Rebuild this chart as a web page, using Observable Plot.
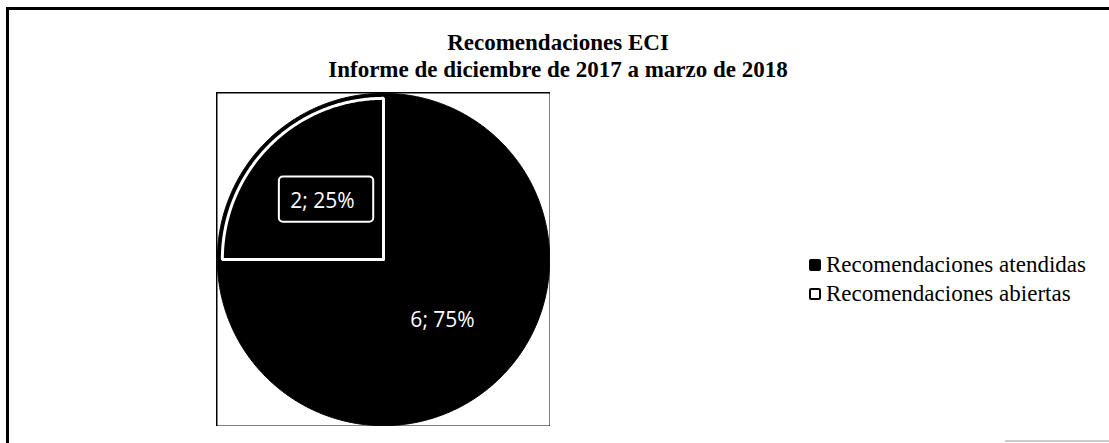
<!DOCTYPE html>
<html>
<head>
<meta charset="utf-8">
<script src="https://cdn.jsdelivr.net/npm/d3@7"></script>
<script src="https://cdn.jsdelivr.net/npm/@observablehq/plot@0.6"></script>
<style>
  html, body { margin: 0; padding: 0; background: #fff; }
  #wrap { position: relative; width: 1109px; height: 443px; overflow: hidden; background: #fff; }
  .title { position: absolute; left: 0; width: 1116px; text-align: center; font-family: "Liberation Serif", "DejaVu Serif", serif; font-weight: bold; color: #000; white-space: nowrap; font-size: 23px; line-height: 26px; }
  #legend { position: absolute; left: 809px; top: 250px; font-family: "Liberation Serif", serif; font-size: 23px; color: #000; }
  #legend .item { display: flex; align-items: center; height: 29px; }
  #legend .sw { width: 12px; height: 12px; box-sizing: border-box; border: 2px solid #000; margin-right: 5px; border-radius: 2px; }
</style>
</head>
<body>
<div id="wrap">
  <div style="position:absolute;left:6px;top:7px;width:1103px;height:3px;background:#000"></div>
  <div style="position:absolute;left:6px;top:7px;width:3px;height:436px;background:#000"></div>
  <div style="position:absolute;left:1005px;top:440px;width:104px;height:2px;background:#ccc"></div>
  <div class="title" id="t1" style="top:30px"></div>
  <div class="title" id="t2" style="top:57px"></div>
  <div id="chart" style="position:absolute;left:216px;top:92px;"></div>
  <div id="legend"></div>
</div>
<script>
// ---- data ----
const categories = ["Recomendaciones atendidas", "Recomendaciones abiertas"];
const values = [6, 2];
const percents = ["75%", "25%"];
const titleLines = ["Recomendaciones ECI", "Informe de diciembre de 2017 a marzo de 2018"];

// ---- titles ----
document.getElementById("t1").textContent = titleLines[0];
document.getElementById("t2").textContent = titleLines[1];

// ---- pie geometry via d3.pie (angles from values) ----
const pie = d3.pie().sort(null).value(d => d.value);
const rows = categories.map((c, i) => ({category: c, value: values[i], label: `${values[i]}; ${percents[i]}`}));
const arcs = pie(rows);
function slicePoints(a, r) {
  const pts = [{x: 0, y: 0}];
  const n = Math.max(2, Math.ceil((a.endAngle - a.startAngle) / 0.01));
  for (let k = 0; k <= n; k++) {
    const t = a.startAngle + (a.endAngle - a.startAngle) * k / n;
    pts.push({x: r * Math.sin(t), y: r * Math.cos(t)});
  }
  pts.push({x: 0, y: 0});
  return pts;
}
const labels = arcs.map(a => {
  const m = (a.startAngle + a.endAngle) / 2;
  return {label: a.data.label, x: 0.5 * Math.sin(m), y: 0.5 * Math.cos(m), category: a.data.category};
});
const labAt = labels.filter(d => d.category === categories[0]);
const labAb = labels.filter(d => d.category === categories[1]);
const size = 334;
const chart = Plot.plot({
  width: size, height: size,
  margin: 0,
  x: {domain: [-1, 1], axis: null},
  y: {domain: [-1, 1], axis: null},
  marks: [
    Plot.frame({stroke: "#000", strokeWidth: 2}),
    Plot.line(slicePoints(arcs[0], 0.995), {x: "x", y: "y", fill: "#000", stroke: "#000", strokeWidth: 1}),
    Plot.line(slicePoints(arcs[1], 0.995), {x: "x", y: "y", fill: "#000", stroke: "#000", strokeWidth: 1}),
    Plot.line(slicePoints(arcs[1], 0.965), {x: "x", y: "y", fill: "none", stroke: "#fff", strokeWidth: 3, strokeLinejoin: "miter"}),
    Plot.rect(labAb, {
      x1: d => d.x - 0.27, x2: d => d.x + 0.295, y1: d => d.y - 0.13, y2: d => d.y + 0.14,
      stroke: "#fff", strokeWidth: 2, fill: "none", rx: 4
    }),
    Plot.text(labAb, {x: "x", y: "y", text: "label", fill: "#fff", fontSize: 21, fontFamily: "Open Sans, sans-serif", dx: -2, dy: 1}),
    Plot.text(labAt, {x: "x", y: "y", text: "label", fill: "#fff", fontSize: 21, fontFamily: "Open Sans, sans-serif", dx: 0, dy: 2})
  ]
});
document.getElementById("chart").appendChild(chart);

// ---- legend ----
const legend = document.getElementById("legend");
const fills = ["#000", "#fff"];
categories.forEach((c, i) => {
  const item = document.createElement("div");
  item.className = "item";
  const sw = document.createElement("span");
  sw.className = "sw";
  sw.style.background = fills[i];
  item.appendChild(sw);
  const tx = document.createElement("span");
  tx.textContent = c;
  item.appendChild(tx);
  legend.appendChild(item);
});
</script>
</body>
</html>
